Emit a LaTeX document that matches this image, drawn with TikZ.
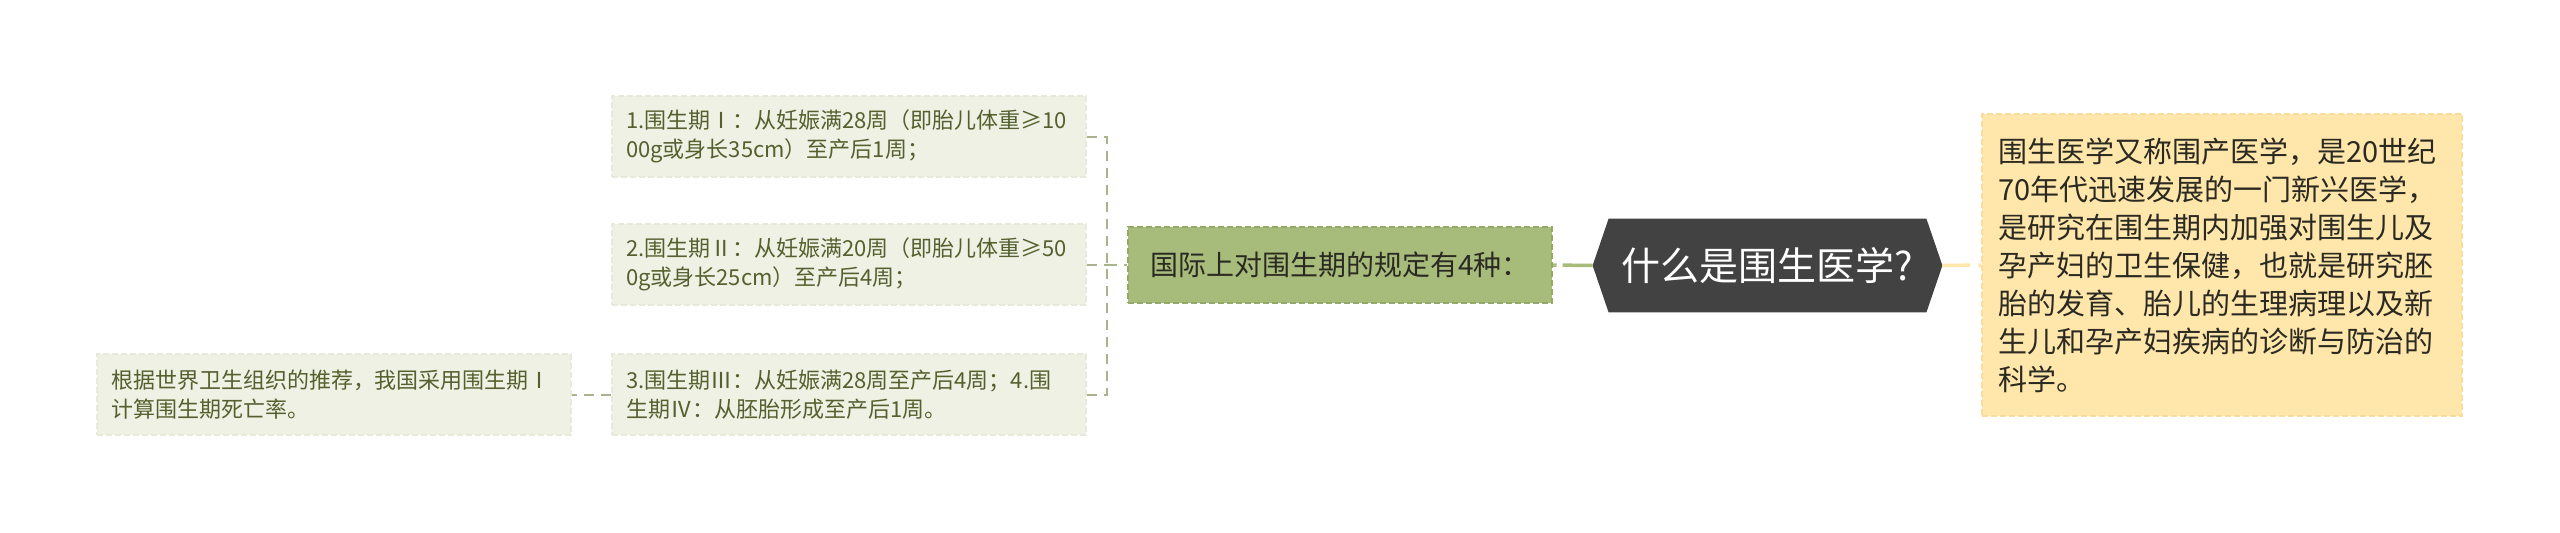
\documentclass[tikz,border=0pt]{standalone}
\usepackage{fontspec}
\setmainfont{Noto Sans CJK SC}
\usetikzlibrary{positioning,calc,backgrounds}
\definecolor{leafbg}{HTML}{EEF1E4}
\definecolor{leafedge}{HTML}{E5EADA}
\definecolor{leaftext}{HTML}{55602E}
\definecolor{linkgray}{HTML}{A9B48E}
\definecolor{greenbg}{HTML}{A7BC7B}
\definecolor{greenedge}{HTML}{93A967}
\definecolor{hubbg}{HTML}{424242}
\definecolor{yellowbg}{HTML}{FFE6AA}
\definecolor{yellowedge}{HTML}{FADD9C}
\definecolor{darktext}{HTML}{2A2A22}

\begin{document}
\begin{tikzpicture}[x=0.5pt, y=-0.5pt,
  every node/.style={inner sep=0pt},
  leaf/.style={fill=leafbg, draw=leafedge, line width=1pt,
               dash pattern=on 3pt off 1.5pt, text=leaftext, align=left,
               text width=223pt, inner xsep=7pt, minimum height=40.5pt,
               font=\fontsize{11}{14.5}\selectfont},
  topic/.style={fill=greenbg, draw=greenedge, line width=1pt,
                dash pattern=on 3pt off 1.5pt, text=darktext,
                minimum width=212pt, minimum height=38pt,
                font=\fontsize{14}{17}\selectfont},
  hubnode/.style={text=white, minimum width=174.5pt, minimum height=46.5pt,
                  font=\fontsize{19.5}{22}\selectfont},
  defbox/.style={fill=yellowbg, draw=yellowedge, line width=1pt,
                 dash pattern=on 3pt off 1.5pt, text=darktext, align=left,
                 text width=224pt, inner xsep=8pt, minimum height=151pt,
                 font=\fontsize{14.5}{19}\selectfont},
  bracket/.style={draw=linkgray, line width=1pt, dash pattern=on 5pt off 3.5pt},
  greenlink/.style={draw=greenbg, line width=1.75pt, dash pattern=on 15pt off 3pt},
  yellowlink/.style={draw=yellowbg, line width=1.75pt, dash pattern=on 14pt off 4pt}]

%% Centre and right side
\node[hubnode] (hub) at (1767.5,265.5) {什么是围生医学?};
\node[defbox]  (def) at (2222,265) {围生医学又称围产医学，是20世纪\\
  70年代迅速发展的一门新兴医学，\\
  是研究在围生期内加强对围生儿及\\
  孕产妇的卫生保健，也就是研究胚\\
  胎的发育、胎儿的生理病理以及新\\
  生儿和孕产妇疾病的诊断与防治的\\
  科学。};

%% Left side
\node[topic] (four) at (1340,265) {国际上对围生期的规定有4种：};
\node[leaf] (p1) at (849,136.5) {1.围生期Ⅰ：从妊娠满28周（即胎儿体重≥10\\
  00g或身长35cm）至产后1周；};
\node[leaf] (p2) at (849,264.5) {2.围生期Ⅱ：从妊娠满20周（即胎儿体重≥50\\
  0g或身长25cm）至产后4周；};
\node[leaf] (p3) at (849,394.5) {3.围生期Ⅲ：从妊娠满28周至产后4周；4.围\\
  生期Ⅳ：从胚胎形成至产后1周。};
\node[leaf] (note) at (334,394.5) {根据世界卫生组织的推荐，我国采用围生期Ⅰ\\
  计算围生期死亡率。};

%% Hexagon behind the centre text
\begin{scope}[on background layer]
  \fill[white] (0,0) rectangle (2560,532);
  \fill[hubbg] (hub.west) -- ([xshift=8pt]hub.north west)
    -- ([xshift=-8pt]hub.north east) -- (hub.east)
    -- ([xshift=-8pt]hub.south east) -- ([xshift=8pt]hub.south west) -- cycle;
\end{scope}

%% Connectors
\coordinate (spine) at (1107,265);
\foreach \b in {p1,p2,p3}{
  \draw[bracket] (\b.east) -| (spine);
}
\draw[bracket] (spine) -- (four.west);
\draw[bracket] (p3.west) -- (note.east);
\draw[greenlink]  (hub.west) -- (four.east);
\draw[yellowlink] (hub.east) -- (def.west);

\useasboundingbox (0,0) rectangle (2560,532);
\end{tikzpicture}
\end{document}
